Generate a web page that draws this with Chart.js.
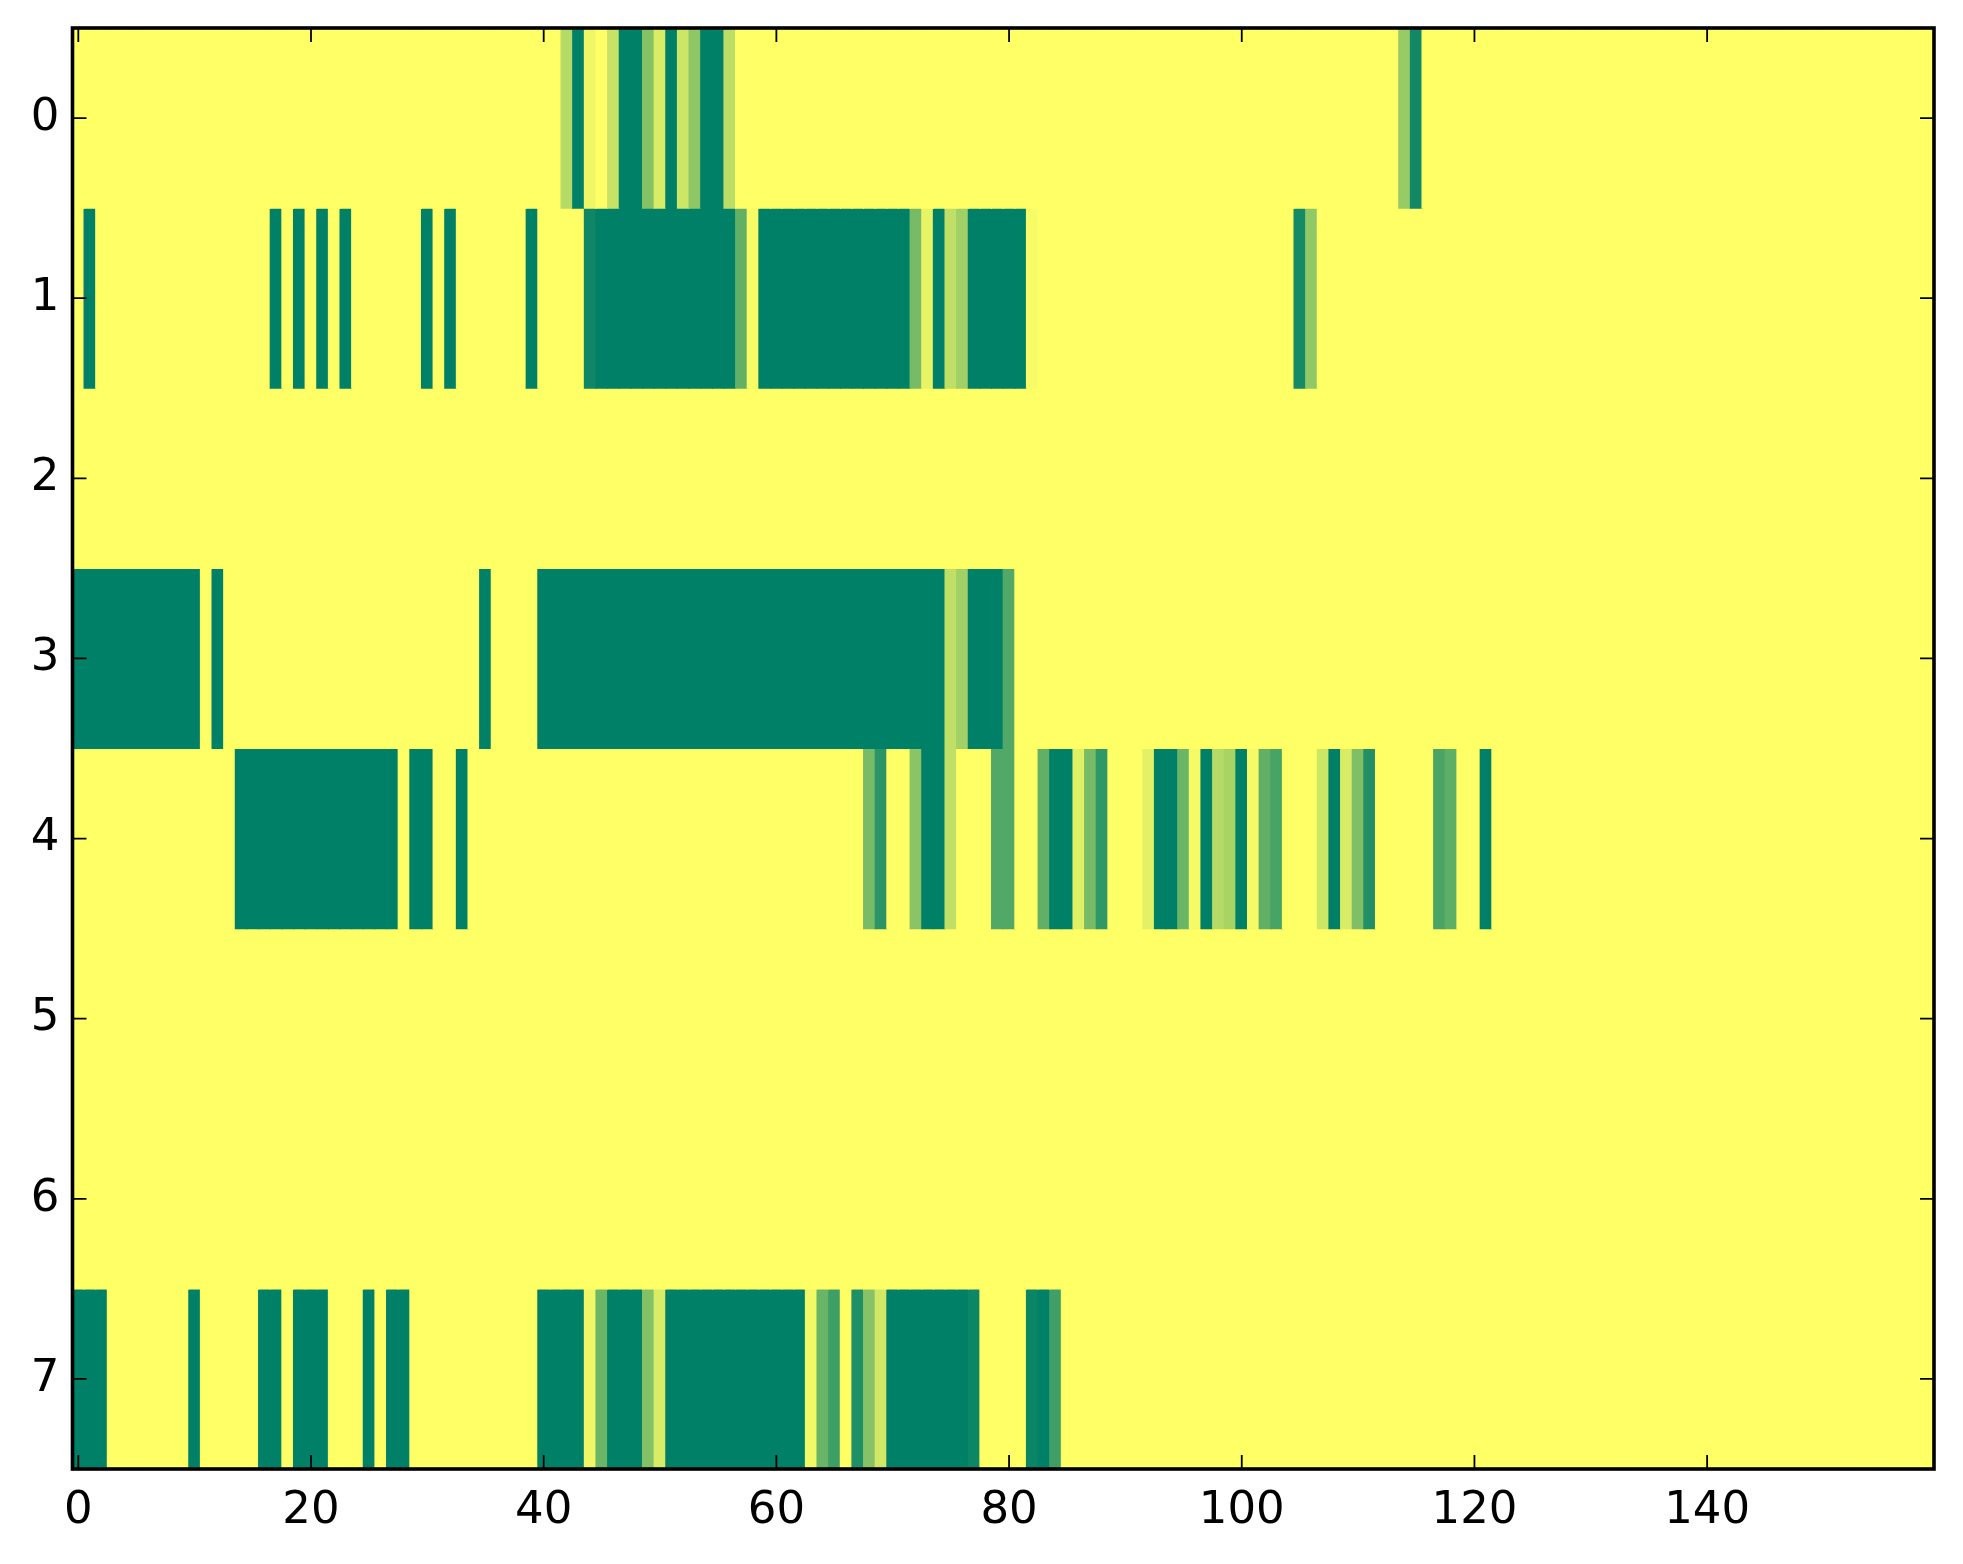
<!DOCTYPE html>
<html>
<head>
<meta charset="utf-8">
<script src="https://cdn.jsdelivr.net/npm/chart.js@4/dist/chart.umd.min.js"></script>
<style>
  html, body { margin: 0; padding: 0; background: #fff; }
  canvas { display: block; }
</style>
</head>
<body>
<canvas id="heat" width="1963" height="1564"></canvas>
<script>
const nCols = 160;
const rowLabels = [0, 1, 2, 3, 4, 5, 6, 7];
const xTicks = [0, 20, 40, 60, 80, 100, 120, 140];

// runs of non-zero cells per row: [firstCol, lastCol, value]
const row0Runs = [[42,42,0.29],[43,43,1],[44,44,0.06],[46,46,0.22],[47,48,1],[49,49,0.48],[50,50,0.15],[51,51,1],[52,52,0.2],[53,53,0.44],[54,55,1],[56,56,0.26],[114,114,0.41],[115,115,0.93]];
const row1Runs = [[1,1,1],[17,17,1],[19,19,1],[21,21,1],[23,23,1],[30,30,1],[32,32,1],[39,39,1],[44,44,0.94],[45,56,1],[57,57,0.62],[58,58,0.03],[59,71,1],[72,72,0.53],[73,73,0.09],[74,74,1],[75,75,0.25],[76,76,0.37],[77,81,1],[82,82,0.03],[105,105,0.92],[106,106,0.43]];
const row2Runs = [];
const row3Runs = [[0,10,1],[12,12,1],[35,35,1],[40,74,1],[75,75,0.25],[76,76,0.37],[77,79,1],[80,80,0.68]];
const row4Runs = [[14,27,1],[29,30,1],[33,33,1],[68,68,0.53],[69,69,0.83],[72,72,0.46],[73,74,1],[75,75,0.25],[79,80,0.68],[83,83,0.62],[84,85,1],[86,86,0.12],[87,87,0.53],[88,88,0.81],[92,92,0.11],[93,94,1],[95,95,0.58],[96,96,0.04],[97,97,1],[98,98,0.29],[99,99,0.34],[100,100,1],[101,101,0.04],[102,102,0.62],[103,103,0.72],[107,107,0.2],[108,108,1],[109,109,0.15],[110,110,0.5],[111,111,0.87],[117,117,0.71],[118,118,0.63],[121,121,1]];
const row5Runs = [];
const row6Runs = [];
const row7Runs = [[0,2,1],[10,10,1],[16,17,1],[19,21,1],[25,25,1],[27,28,1],[40,43,1],[44,44,0.06],[45,45,0.58],[46,48,1],[49,49,0.49],[50,50,0.15],[51,62,1],[63,63,0.05],[64,64,0.59],[65,65,0.76],[67,67,0.88],[68,68,0.47],[69,69,0.18],[70,76,1],[77,77,0.95],[82,82,0.96],[83,83,1],[84,84,0.75]];

const allRuns = [row0Runs, row1Runs, row2Runs, row3Runs, row4Runs, row5Runs, row6Runs, row7Runs];

// summer_r colormap
function summerR(t) {
  const r = Math.round(255 * (1 - t));
  const g = Math.round(255 * (1 - t / 2));
  return `rgb(${r}, ${g}, 102)`;
}

function expandRow(runs) {
  const vals = new Array(nCols).fill(0);
  runs.forEach(([a, b, v]) => {
    for (let c = a; c <= b; c++) vals[c] = v;
  });
  return vals;
}

const datasets = allRuns.map((runs, r) => {
  const vals = expandRow(runs);
  return {
    label: `row ${rowLabels[r]}`,
    data: vals.map((v, c) => ({ x: c, y: [r - 0.5, r + 0.5] })),
    backgroundColor: vals.map(summerR),
    borderWidth: 0,
    inflateAmount: 0.6,
    barPercentage: 1,
    categoryPercentage: 1,
    grouped: false,
  };
});

const frame = {
  id: "frame",
  afterDraw(chart) {
    const { ctx, chartArea: a, scales: { x, y } } = chart;
    ctx.save();
    ctx.strokeStyle = "#000";
    ctx.lineWidth = 1.8;
    ctx.beginPath();
    x.ticks.forEach((t) => {
      const px = x.getPixelForValue(t.value);
      ctx.moveTo(px, a.bottom); ctx.lineTo(px, a.bottom - 14);
      ctx.moveTo(px, a.top); ctx.lineTo(px, a.top + 14);
    });
    y.ticks.forEach((t) => {
      const py = y.getPixelForValue(t.value);
      ctx.moveTo(a.left, py); ctx.lineTo(a.left + 14, py);
      ctx.moveTo(a.right, py); ctx.lineTo(a.right - 14, py);
    });
    ctx.stroke();
    ctx.lineWidth = 3.6;
    ctx.strokeRect(a.left, a.top, a.right - a.left, a.bottom - a.top);
    ctx.restore();
  },
};

const font = { family: "'DejaVu Sans'", size: 45 };

new Chart(document.getElementById("heat").getContext("2d"), {
  type: "bar",
  data: { datasets },
  options: {
    responsive: false,
    animation: false,
    layout: { padding: { top: 28, right: 29, left: 0, bottom: 0 } },
    plugins: { legend: { display: false }, tooltip: { enabled: false } },
    scales: {
      x: {
        type: "linear",
        offset: false,
        min: -0.5,
        max: nCols - 0.5,
        grid: { display: false, drawTicks: false, offset: false },
        border: { display: false },
        afterBuildTicks: (s) => { s.ticks = xTicks.map((v) => ({ value: v })); },
        afterFit: (s) => { s.height = 95; s.paddingLeft = 0; s.paddingRight = 0; },
        ticks: { color: "#000", font, padding: 15, maxRotation: 0, autoSkip: false },
      },
      y: {
        type: "linear",
        reverse: true,
        min: -0.5,
        max: 7.5,
        grid: { display: false, drawTicks: false },
        border: { display: false },
        afterBuildTicks: (s) => { s.ticks = rowLabels.map((v) => ({ value: v })); },
        afterFit: (s) => { s.width = 72.5; s.paddingTop = 0; s.paddingBottom = 0; },
        ticks: { color: "#000", font, padding: 13, autoSkip: false },
      },
    },
  },
  plugins: [frame],
});
</script>
</body>
</html>
